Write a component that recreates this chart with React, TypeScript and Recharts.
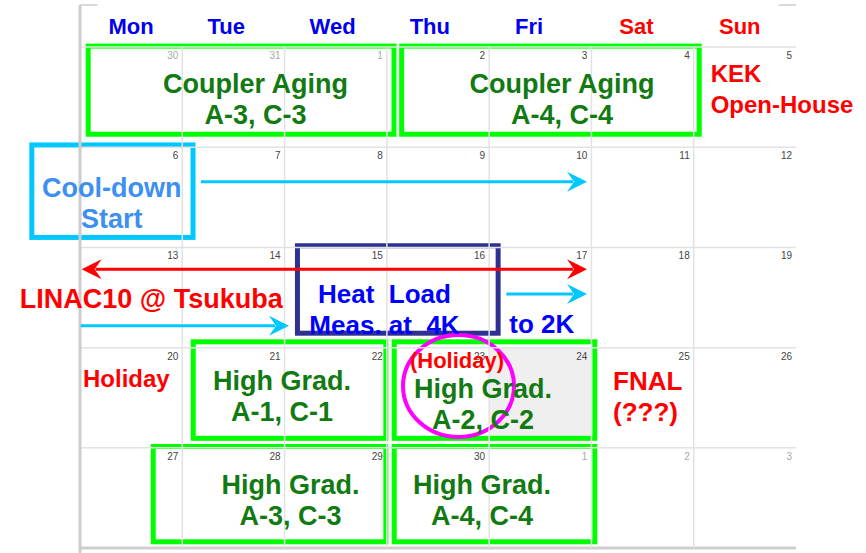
import React from 'react';
import { ComposedChart, XAxis, YAxis, Scatter, ReferenceArea, ReferenceLine, ReferenceDot } from 'recharts';

// calendar data: columns are weekdays (0..7), rows are weeks (0..5)
const weekdays = ['Mon', 'Tue', 'Wed', 'Thu', 'Fri', 'Sat', 'Sun'];
const weekdayAt = [0.5, 1.43, 2.47, 3.42, 4.39, 5.44, 6.45];
const weekendDays = ['Sat', 'Sun'];

const weeks = [
  ['30', '31', '1', '2', '3', '4', '5'],
  ['6', '7', '8', '9', '10', '11', '12'],
  ['13', '14', '15', '16', '17', '18', '19'],
  ['20', '21', '22', '23', '24', '25', '26'],
  ['27', '28', '29', '30', '1', '2', '3'],
];

// [week, day] of greyed-out dates and of the shaded cell
const mutedCells = [[0, 0], [0, 1], [0, 2], [4, 4], [4, 5], [4, 6]];
const shadedCells = [[3, 4]];

// schedule blocks, in calendar units
const blocks = [
  { x1: 0.08, x2: 3.07, y1: -0.01, y2: 0.87, kind: 'test' },
  { x1: 3.145, x2: 6.054, y1: -0.01, y2: 0.87, kind: 'test' },
  { x1: -0.471, x2: 1.105, y1: 0.977, y2: 1.9, kind: 'cool' },
  { x1: 2.126, x2: 4.088, y1: 1.983, y2: 2.856, kind: 'heat' },
  { x1: 1.107, x2: 2.99, y1: 2.942, y2: 3.905, kind: 'test' },
  { x1: 3.072, x2: 5.033, y1: 2.942, y2: 3.905, kind: 'test' },
  { x1: 0.716, x2: 2.99, y1: 3.987, y2: 4.938, kind: 'test' },
  { x1: 3.072, x2: 5.033, y1: 3.987, y2: 4.938, kind: 'test' },
];

const holidayMark = { x1: 3.158, x2: 4.243, y1: 2.874, y2: 3.892 };

const arrows = [
  { x1: 1.183, x2: 4.957, y: 1.344, kind: 'cool', both: false },
  { x1: 0.016, x2: 4.957, y: 2.218, kind: 'trip', both: true },
  { x1: 0.007, x2: 2.043, y: 2.781, kind: 'cool', both: false },
  { x1: 4.168, x2: 4.957, y: 2.465, kind: 'cool', both: false },
];

const notes = [
  { lines: ['Coupler Aging', 'A-3, C-3'], x: 1.716, y: 0.518, tone: 'test', anchor: 'middle', size: 27 },
  { lines: ['Coupler Aging', 'A-4, C-4'], x: 4.712, y: 0.518, tone: 'test', anchor: 'middle', size: 27 },
  { lines: ['KEK', 'Open-House'], x: 6.166, y: 0.413, tone: 'red', anchor: 'start', size: 24 },
  { lines: ['Cool-down', 'Start'], x: 0.31, y: 1.554, tone: 'cool', anchor: 'middle', size: 27 },
  { lines: ['LINAC10 @ Tsukuba'], x: 0.697, y: 2.509, tone: 'red', anchor: 'middle', size: 27 },
  { lines: ['Heat  Load', 'Meas. at  4K'], x: 2.977, y: 2.611, tone: 'blue', anchor: 'middle', size: 26 },
  { lines: ['to 2K'], x: 4.515, y: 2.757, tone: 'blue', anchor: 'middle', size: 26 },
  { lines: ['Holiday'], x: 0.453, y: 3.311, tone: 'red', anchor: 'middle', size: 24 },
  { lines: ['High Grad.', 'A-1, C-1'], x: 1.975, y: 3.481, tone: 'test', anchor: 'middle', size: 27 },
  { lines: ['(Holiday)'], x: 3.686, y: 3.125, tone: 'red', anchor: 'middle', size: 22 },
  { lines: ['High Grad.', 'A-2, C-2'], x: 3.94, y: 3.561, tone: 'test', anchor: 'middle', size: 27 },
  { lines: ['FNAL', '(???)'], x: 5.211, y: 3.488, tone: 'red', anchor: 'start', size: 26 },
  { lines: ['High Grad.', 'A-3, C-3'], x: 2.058, y: 4.521, tone: 'test', anchor: 'middle', size: 27 },
  { lines: ['High Grad.', 'A-4, C-4'], x: 3.93, y: 4.521, tone: 'test', anchor: 'middle', size: 27 },
];

const FONT = '"Liberation Sans", Arial, sans-serif';

const toneColors: Record<string, string> = {
  test: '#127a12',
  red: '#ff0000',
  cool: '#3d8ff0',
  blue: '#0000ff',
};

const boxColors: Record<string, string> = {
  test: '#00ff00',
  cool: '#00c8ff',
  heat: '#2e3192',
  trip: '#ff0000',
};

const dateCells = weeks.flatMap((week, r) =>
  week.map((label, c) => ({
    x: c + 1,
    y: r,
    label,
    muted: mutedCells.some(([mr, mc]) => mr === r && mc === c),
  }))
);

const NoteText = ({ cx, cy, note }: any) => {
  const lh = 31;
  const n = note.lines.length;
  return (
    <text
      fontFamily={FONT}
      fontWeight="bold"
      fontSize={note.size}
      fill={toneColors[note.tone]}
      textAnchor={note.anchor}
      style={{ whiteSpace: 'pre' }}
    >
      {note.lines.map((line: string, i: number) => (
        <tspan key={i} x={cx} y={cy + (i - (n - 1) / 2) * lh + note.size * 0.36}>
          {line}
        </tspan>
      ))}
    </text>
  );
};

const ArrowShape = ({ x1, y1, x2, y2, color, both }: any) => {
  const head = (x: number, y: number, dir: number) =>
    `${x},${y} ${x - dir * 20},${y - 10} ${x - dir * 13},${y} ${x - dir * 20},${y + 10}`;
  return (
    <g>
      <line x1={both ? x1 + 14 : x1} y1={y1} x2={x2 - 14} y2={y2} stroke={color} strokeWidth={3} />
      <polygon points={head(x2, y2, 1)} fill={color} />
      {both && <polygon points={head(x1, y1, -1)} fill={color} />}
    </g>
  );
};

export default function App() {
  return (
    <div style={{ position: 'absolute', left: 0, top: 0, background: '#fff' }}>
      <ComposedChart width={866} height={553} margin={{ top: 5, right: 70, bottom: 5, left: 80 }} data={dateCells}>
        <XAxis type="number" dataKey="x" domain={[0, 7]} hide allowDataOverflow />
        <YAxis type="number" dataKey="y" domain={[-0.42, 5]} reversed hide allowDataOverflow />

        {shadedCells.map(([r, c], i) => (
          <ReferenceArea key={`s${i}`} x1={c} x2={c + 1} y1={r} y2={r + 1} ifOverflow="visible"
            fill="#efefef" fillOpacity={1} stroke="none" />
        ))}

        {[0, 1, 2, 3, 4].map((r) => (
          <ReferenceLine key={`h${r}`} segment={[{ x: 0, y: r }, { x: 7, y: r }]} ifOverflow="visible"
            stroke="#e2e2e2" strokeWidth={1.5} />
        ))}
        <ReferenceLine segment={[{ x: 0, y: 5 }, { x: 7, y: 5 }]} ifOverflow="visible" stroke="#cfcfcf" strokeWidth={3} />
        {[1, 2, 3, 4, 5, 6].map((c) => (
          <ReferenceLine key={`v${c}`} segment={[{ x: c, y: 0 }, { x: c, y: 5 }]} ifOverflow="visible"
            stroke="#e2e2e2" strokeWidth={1.5} />
        ))}
        <ReferenceLine segment={[{ x: 0, y: -0.42 }, { x: 0, y: 5.05 }]} ifOverflow="visible" stroke="#cccccc" strokeWidth={3} />
        <ReferenceLine segment={[{ x: 0, y: -0.42 }, { x: 0.17, y: -0.42 }]} ifOverflow="visible" stroke="#cccccc" strokeWidth={1.5} />
        <ReferenceLine segment={[{ x: 6.83, y: -0.42 }, { x: 7, y: -0.42 }]} ifOverflow="visible" stroke="#cccccc" strokeWidth={1.5} />

        {weekdays.map((d, i) => (
          <ReferenceDot key={d} x={weekdayAt[i]} y={-0.21} ifOverflow="visible"
            shape={(p: any) => (
              <text x={p.cx} y={p.cy + 8} textAnchor="middle" fontFamily={FONT} fontWeight="bold" fontSize={22}
                fill={weekendDays.includes(d) ? '#ff0000' : '#0000ee'}>
                {d}
              </text>
            )}
          />
        ))}

        <Scatter
          dataKey="y"
          isAnimationActive={false}
          shape={(p: any) => (
            <text x={p.cx - 4} y={p.cy + 12} textAnchor="end" fontFamily={FONT} fontSize={10}
              fill={p.payload.muted ? '#a8a8a8' : '#444'}>
              {p.payload.label}
            </text>
          )}
        />

        {notes.map((note, i) => (
          <ReferenceDot key={`n${i}`} x={note.x} y={note.y} ifOverflow="visible"
            shape={(p: any) => <NoteText cx={p.cx} cy={p.cy} note={note} />}
          />
        ))}

        {blocks.map((b, i) => (
          <ReferenceArea key={`b${i}`} x1={b.x1} x2={b.x2} y1={b.y1} y2={b.y2} ifOverflow="visible"
            shape={(p: any) => (
              <rect x={p.x} y={p.y} width={p.width} height={p.height} fill="none"
                stroke={boxColors[b.kind]} strokeWidth={5} />
            )}
          />
        ))}

        <ReferenceArea x1={holidayMark.x1} x2={holidayMark.x2} y1={holidayMark.y1} y2={holidayMark.y2} ifOverflow="visible"
          shape={(p: any) => (
            <ellipse cx={p.x + p.width / 2} cy={p.y + p.height / 2} rx={p.width / 2} ry={p.height / 2}
              fill="none" stroke="#ff00ff" strokeWidth={4} />
          )}
        />

        {arrows.map((a, i) => (
          <ReferenceLine key={`a${i}`} segment={[{ x: a.x1, y: a.y }, { x: a.x2, y: a.y }]} ifOverflow="visible"
            shape={(p: any) => (
              <ArrowShape x1={p.x1} y1={p.y1} x2={p.x2} y2={p.y2} color={boxColors[a.kind]} both={a.both} />
            )}
          />
        ))}
      </ComposedChart>
    </div>
  );
}
